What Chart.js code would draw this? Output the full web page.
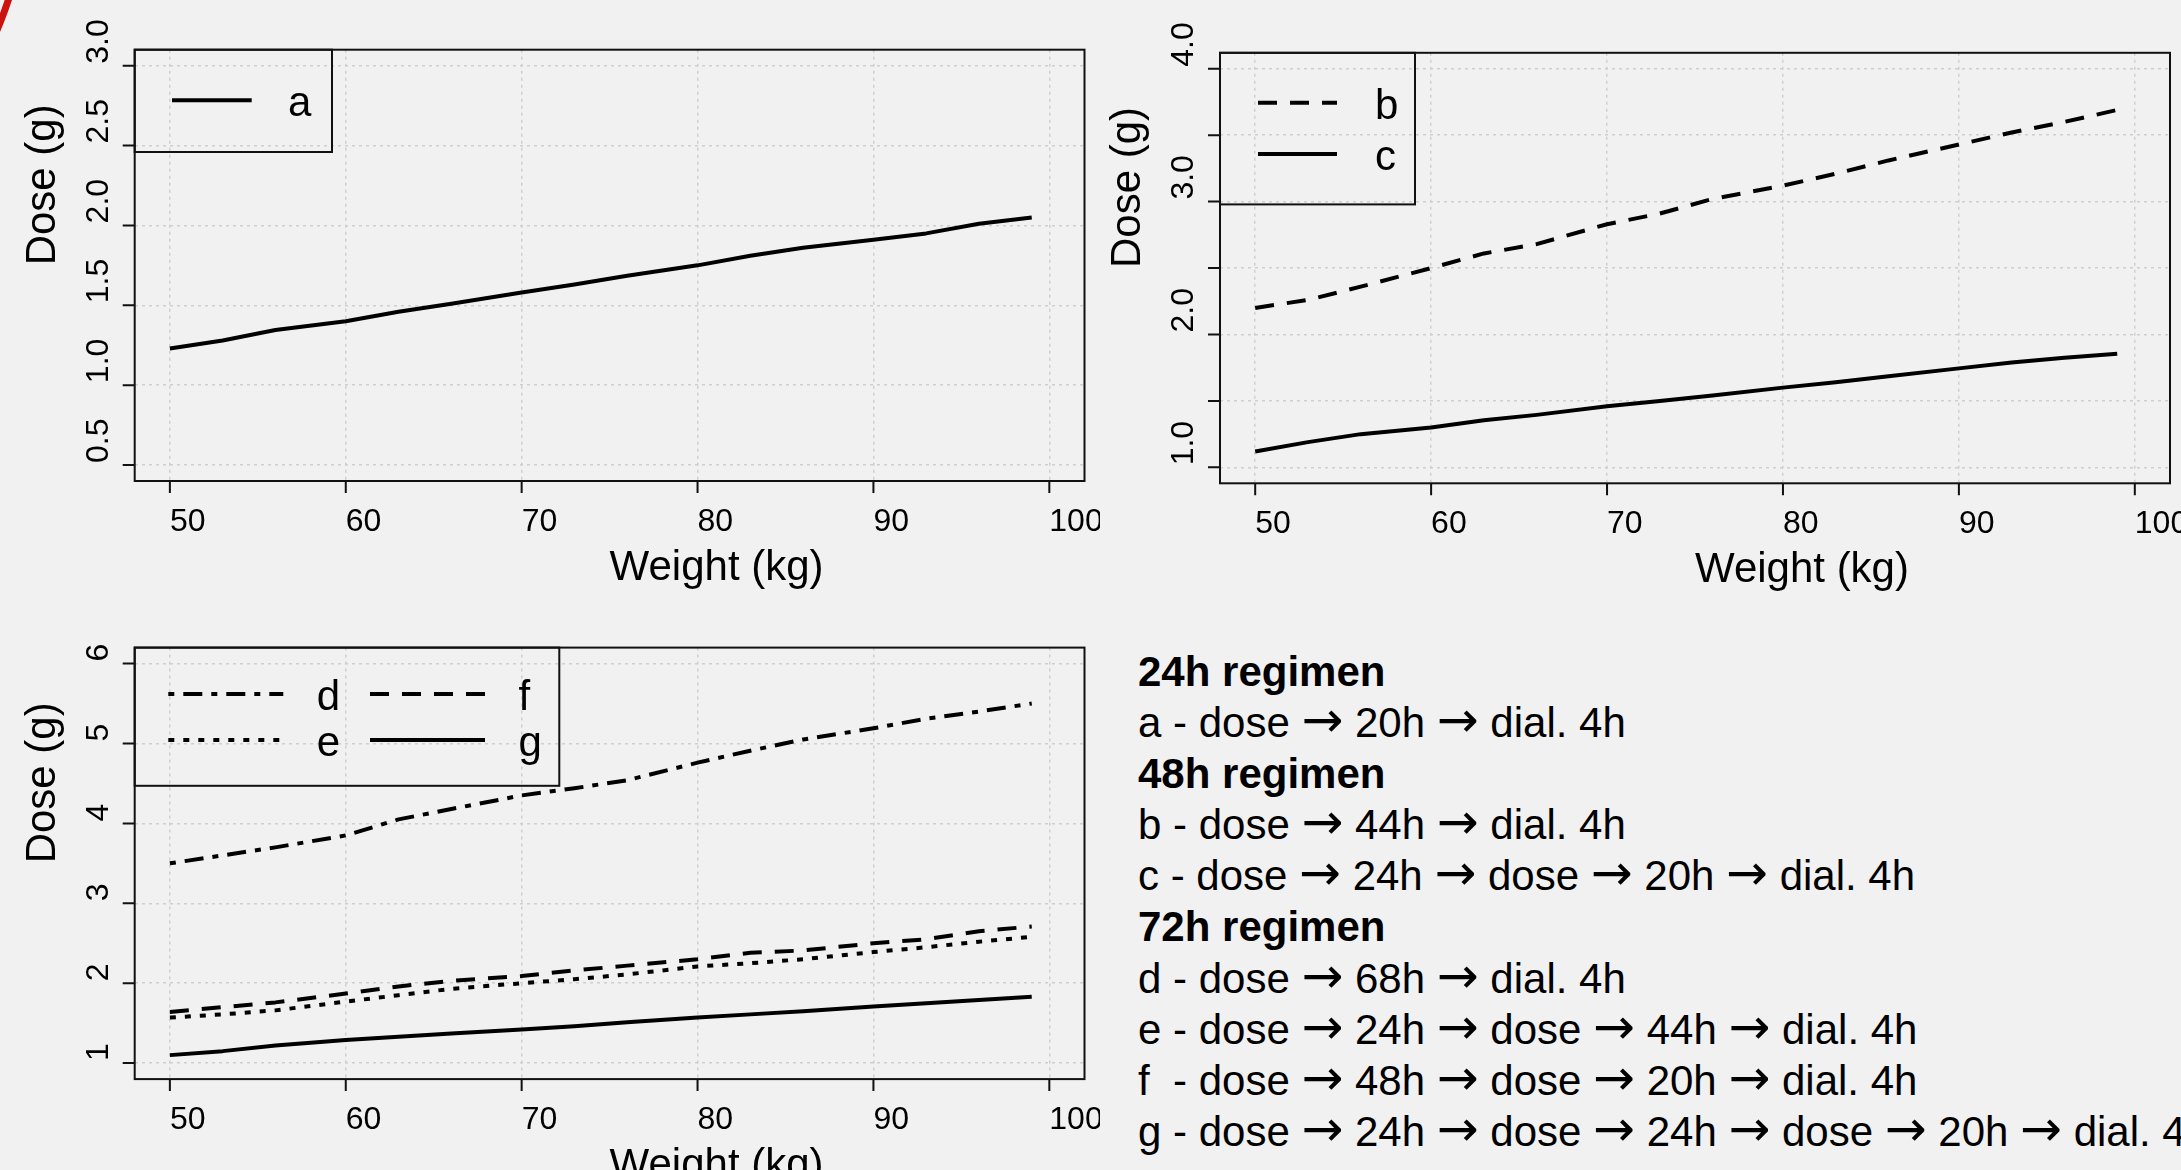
<!DOCTYPE html>
<html>
<head>
<meta charset="utf-8">
<title>Dose by weight</title>
<script src="https://cdn.jsdelivr.net/npm/chart.js@4.4.0/dist/chart.umd.min.js"></script>
<style>
  html, body { margin: 0; padding: 0; }
  body {
    width: 2181px; height: 1170px; position: relative; overflow: hidden;
    background: #f1f1f1; font-family: "Liberation Sans", Arial, sans-serif;
  }
  canvas { position: absolute; }
  #chartA { left: 0; top: 0; }
  #chartB { left: 1100px; top: 0; }
  #chartC { left: 0; top: 600px; }
  #ring {
    position: absolute; left: -680px; top: -463px; width: 695px; height: 695px;
    border: 7px solid #cc1111; border-radius: 50%;
  }
  #notes {
    position: absolute; left: 1138px; top: 646px; font-size: 42px;
    line-height: 51.1px; white-space: pre; color: #000;
  }
  #notes .ar { font-family: "DejaVu Sans", sans-serif; font-size: 50px; line-height: 0; }
</style>
</head>
<body>
<div id="ring"></div>
<canvas id="chartA" width="1100" height="600"></canvas>
<canvas id="chartB" width="1081" height="600"></canvas>
<canvas id="chartC" width="1100" height="570"></canvas>
<div id="notes"><b>24h regimen</b>
a - dose <span class="ar">→</span> 20h <span class="ar">→</span> dial. 4h
<b>48h regimen</b>
b - dose <span class="ar">→</span> 44h <span class="ar">→</span> dial. 4h
c - dose <span class="ar">→</span> 24h <span class="ar">→</span> dose <span class="ar">→</span> 20h <span class="ar">→</span> dial. 4h
<b>72h regimen</b>
d - dose <span class="ar">→</span> 68h <span class="ar">→</span> dial. 4h
e - dose <span class="ar">→</span> 24h <span class="ar">→</span> dose <span class="ar">→</span> 44h <span class="ar">→</span> dial. 4h
f  - dose <span class="ar">→</span> 48h <span class="ar">→</span> dose <span class="ar">→</span> 20h <span class="ar">→</span> dial. 4h
g - dose <span class="ar">→</span> 24h <span class="ar">→</span> dose <span class="ar">→</span> 24h <span class="ar">→</span> dose <span class="ar">→</span> 20h <span class="ar">→</span> dial. 4h</div>

<script>
// data
const weights = [50, 53, 56, 60, 63, 66, 70, 73, 76, 80, 83, 86, 90, 93, 96, 99];
const doseA = [1.23, 1.28, 1.345, 1.40, 1.46, 1.51, 1.58, 1.63, 1.685, 1.75, 1.81, 1.86, 1.91, 1.95, 2.01, 2.05];
const doseB = [2.20, 2.26, 2.36, 2.50, 2.61, 2.68, 2.83, 2.91, 3.02, 3.12, 3.21, 3.31, 3.43, 3.52, 3.60, 3.69];
const doseC = [1.12, 1.19, 1.25, 1.30, 1.355, 1.395, 1.46, 1.50, 1.54, 1.60, 1.64, 1.685, 1.745, 1.79, 1.825, 1.855];
const doseD = [3.50, 3.60, 3.70, 3.85, 4.05, 4.18, 4.35, 4.44, 4.54, 4.76, 4.91, 5.05, 5.19, 5.31, 5.40, 5.50];
const doseE = [1.57, 1.61, 1.66, 1.77, 1.85, 1.93, 2.00, 2.05, 2.11, 2.21, 2.25, 2.30, 2.39, 2.45, 2.52, 2.58];
const doseF = [1.64, 1.70, 1.76, 1.87, 1.96, 2.03, 2.09, 2.16, 2.22, 2.30, 2.38, 2.41, 2.50, 2.55, 2.65, 2.71];
const doseG = [1.10, 1.15, 1.22, 1.29, 1.33, 1.37, 1.42, 1.46, 1.51, 1.57, 1.61, 1.65, 1.71, 1.75, 1.79, 1.83];

const xTicks = [50, 60, 70, 80, 90, 100];
const xTickLabels = ["50", "60", "70", "80", "90", "100"];
const yTicksA = [0.5, 1, 1.5, 2, 2.5, 3];
const yTickLabelsA = ["0.5", "1.0", "1.5", "2.0", "2.5", "3.0"];
const yTicksB = [1, 1.5, 2, 2.5, 3, 3.5, 4];
const yTickLabelsB = ["1.0", "", "2.0", "", "3.0", "", "4.0"];
const yTicksC = [1, 2, 3, 4, 5, 6];
const yTickLabelsC = ["1", "2", "3", "4", "5", "6"];

// R style line types
const SOLID = [];
const DASHED = [19, 13];
const DOTTED = [6, 9];
const DOTDASH = [6, 9, 19, 9];

const FONT = "'Liberation Sans', Arial, sans-serif";

// box, ticks, labels and legend drawn like base R graphics
function rAxes(opts) {
  return {
    id: "rAxes",
    afterDraw(chart) {
      const { ctx, chartArea: a, scales } = chart;
      const sx = scales.x, sy = scales.y;
      ctx.save();
      ctx.strokeStyle = "#111";
      ctx.fillStyle = "#000";
      ctx.lineWidth = 2;
      ctx.setLineDash([]);
      ctx.strokeRect(a.left, a.top, a.right - a.left, a.bottom - a.top);

      ctx.beginPath();
      xTicks.forEach(v => {
        const px = sx.getPixelForValue(v);
        ctx.moveTo(px, a.bottom);
        ctx.lineTo(px, a.bottom + 12);
      });
      opts.yTicks.forEach(v => {
        const py = sy.getPixelForValue(v);
        ctx.moveTo(a.left - 12, py);
        ctx.lineTo(a.left, py);
      });
      ctx.stroke();

      ctx.font = "32px " + FONT;
      ctx.textAlign = "left";
      ctx.textBaseline = "alphabetic";
      xTicks.forEach((v, i) => {
        ctx.fillText(xTickLabels[i], sx.getPixelForValue(v), a.bottom + 50);
      });
      opts.yTicks.forEach((v, i) => {
        ctx.save();
        ctx.translate(a.left - 27, sy.getPixelForValue(v) - 2);
        ctx.rotate(-Math.PI / 2);
        ctx.fillText(opts.yLabels[i], 0, 0);
        ctx.restore();
      });

      ctx.font = "42px " + FONT;
      ctx.fillText("Weight (kg)", (a.left + a.right) / 2, a.bottom + 99);
      ctx.save();
      ctx.translate(a.left - 80, (a.top + a.bottom) / 2);
      ctx.rotate(-Math.PI / 2);
      ctx.fillText("Dose (g)", 0, 0);
      ctx.restore();

      // legend
      const lg = opts.legend;
      ctx.lineWidth = 2;
      ctx.strokeRect(a.left, a.top, lg.w, lg.h);
      chart.data.datasets.forEach((ds, i) => {
        const col = Math.floor(i / lg.rows), row = i % lg.rows;
        const x0 = a.left + lg.lineX + col * lg.colW;
        const y0 = a.top + lg.rowY + row * lg.rowH;
        ctx.strokeStyle = "#000";
        ctx.lineWidth = 4;
        ctx.lineCap = "butt";
        ctx.setLineDash(ds.borderDash);
        ctx.beginPath();
        ctx.moveTo(x0, y0);
        ctx.lineTo(x0 + lg.lineLen, y0);
        ctx.stroke();
        ctx.setLineDash([]);
        ctx.fillText(ds.label, x0 + lg.textDx, y0 + 16);
      });
      ctx.restore();
    },
  };
}

function axisOpts(min, max, ticks) {
  return {
    type: "linear",
    min: min,
    max: max,
    afterBuildTicks: s => { s.ticks = ticks.map(v => ({ value: v })); },
    ticks: { display: false },
    grid: { color: "#cfcfcf", lineWidth: 1.5, drawTicks: false },
    border: { display: false, dash: [3, 4] },
  };
}

function drawPanel(id, opts) {
  new Chart(document.getElementById(id), {
    type: "line",
    data: {
      datasets: opts.series.map(s => ({
        label: s.label,
        data: weights.map((w, i) => ({ x: w, y: s.values[i] })),
        borderColor: "#000",
        borderWidth: 4,
        borderDash: s.dash,
        borderCapStyle: "butt",
        borderJoinStyle: "round",
        pointRadius: 0,
        tension: 0,
        fill: false,
      })),
    },
    options: {
      responsive: false,
      animation: false,
      devicePixelRatio: 1,
      events: [],
      layout: { padding: opts.padding },
      plugins: { legend: { display: false }, tooltip: { enabled: false } },
      scales: {
        x: axisOpts(48, 102, xTicks),
        y: axisOpts(opts.yMin, opts.yMax, opts.yTicks),
      },
    },
    plugins: [rAxes(opts)],
  });
}

drawPanel("chartA", {
  series: [{ label: "a", values: doseA, dash: SOLID }],
  yMin: 0.4, yMax: 3.1, yTicks: yTicksA, yLabels: yTickLabelsA,
  padding: { left: 134.7, top: 49.7, right: 15.5, bottom: 119 },
  legend: { w: 197.3, h: 102.3, rows: 1, lineX: 37.3, lineLen: 79.7, rowY: 50.6, rowH: 0, colW: 0, textDx: 116 },
});

drawPanel("chartB", {
  series: [
    { label: "b", values: doseB, dash: DASHED },
    { label: "c", values: doseC, dash: SOLID },
  ],
  yMin: 0.88, yMax: 4.12, yTicks: yTicksB, yLabels: yTickLabelsB,
  padding: { left: 120, top: 52.8, right: 11, bottom: 116.7 },
  legend: { w: 195, h: 151.6, rows: 2, lineX: 38, lineLen: 79, rowY: 49.9, rowH: 51.3, colW: 0, textDx: 117 },
});

drawPanel("chartC", {
  series: [
    { label: "d", values: doseD, dash: DOTDASH },
    { label: "e", values: doseE, dash: DOTTED },
    { label: "f", values: doseF, dash: DASHED },
    { label: "g", values: doseG, dash: SOLID },
  ],
  yMin: 0.8, yMax: 6.2, yTicks: yTicksC, yLabels: yTickLabelsC,
  padding: { left: 134.7, top: 47.6, right: 15.5, bottom: 90.9 },
  legend: { w: 424.6, h: 138.2, rows: 2, lineX: 33.6, lineLen: 115, rowY: 46.4, rowH: 46, colW: 201.7, textDx: 148.4 },
});
</script>
</body>
</html>
